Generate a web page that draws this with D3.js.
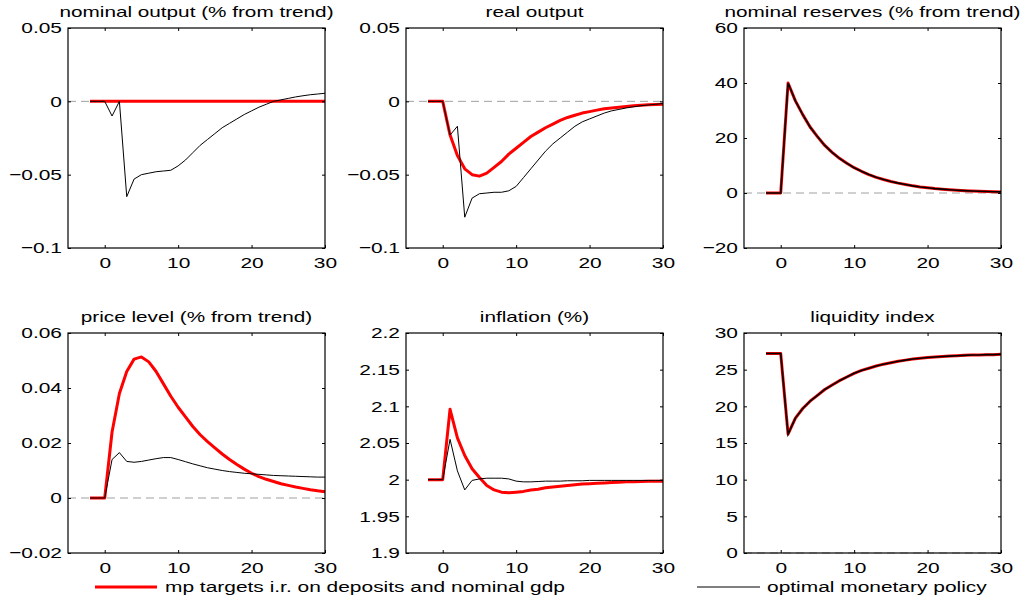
<!DOCTYPE html>
<html lang="en">
<head>
<meta charset="utf-8">
<title>impulse responses</title>
<script src="https://cdn.jsdelivr.net/npm/d3@7"></script>
<style>
  body { margin: 0; background: #fff; }
  svg { display: block; font-family: "Liberation Sans", Arial, sans-serif; }
</style>
</head>
<body>
<div id="chart"></div>
<script>
// periods -2 .. 30
var periods = d3.range(-2, 31);

var titles = ["nominal output (% from trend)", "real output", "nominal reserves (% from trend)",
              "price level (% from trend)", "inflation (%)", "liquidity index"];

var yDomains = [[-0.1, 0.05], [-0.1, 0.05], [-20, 60], [-0.02, 0.06], [1.9, 2.2], [0, 30]];
var yTicks = [[-0.1, -0.05, 0, 0.05], [-0.1, -0.05, 0, 0.05], [-20, 0, 20, 40, 60],
              [-0.02, 0, 0.02, 0.04, 0.06], [1.9, 1.95, 2, 2.05, 2.1, 2.15, 2.2], [0, 5, 10, 15, 20, 25, 30]];
var xTicks = [0, 10, 20, 30];

// mp targets i.r. on deposits and nominal gdp (red)
var nomOutRed = [0,0,0, 0,0,0,0,0,0,0,0,0,0, 0,0,0,0,0,0,0,0,0,0, 0,0,0,0,0,0,0,0,0,0];
var realOutRed = [0,0,0, -0.023,-0.037,-0.046,-0.050,-0.051,-0.049,-0.045,-0.041,-0.036,-0.032,
  -0.028,-0.024,-0.021,-0.018,-0.0155,-0.013,-0.011,-0.0095,-0.008,-0.007,
  -0.006,-0.005,-0.0045,-0.004,-0.0035,-0.003,-0.0027,-0.0024,-0.0021,-0.002];
var reservesRed = [0,0,0, 40,33.5,28.5,24,20.5,17.3,14.8,12.6,10.8,9.2,
  7.9,6.7,5.7,4.9,4.2,3.6,3.1,2.6,2.2,1.9,
  1.6,1.4,1.2,1.0,0.85,0.75,0.65,0.55,0.45,0.4];
var priceRed = [0,0,0, 0.024,0.038,0.046,0.0505,0.0513,0.0495,0.046,0.0415,0.037,0.033,
  0.0295,0.026,0.023,0.0205,0.0182,0.016,0.014,0.0122,0.0105,0.009,
  0.0078,0.0068,0.006,0.0052,0.0046,0.004,0.0035,0.003,0.0026,0.0023];
var inflRed = [2,2,2, 2.096,2.057,2.033,2.015,2.003,1.992,1.986,1.983,1.982,1.983,
  1.984,1.986,1.987,1.989,1.990,1.991,1.992,1.993,1.994,1.9945,
  1.995,1.9955,1.996,1.9965,1.997,1.9972,1.9975,1.998,1.998,1.998];
var liqRed = [27.2,27.2,27.2, 16.2,18.4,19.7,20.7,21.5,22.3,22.9,23.5,24.0,24.5,
  24.9,25.2,25.5,25.75,25.95,26.15,26.3,26.45,26.55,26.65,
  26.72,26.8,26.85,26.9,26.95,27.0,27.0,27.05,27.05,27.1];

// optimal monetary policy (black)
var nomOutBlack = [0,0,0, -0.01,0,-0.065,-0.053,-0.050,-0.049,-0.048,-0.0475,-0.047,-0.044,
  -0.040,-0.035,-0.030,-0.026,-0.022,-0.018,-0.015,-0.012,-0.009,-0.0065,
  -0.004,-0.002,0,0.001,0.002,0.003,0.0038,0.0045,0.005,0.0055];
var realOutBlack = [0,0,0, -0.023,-0.017,-0.079,-0.066,-0.063,-0.0625,-0.062,-0.062,-0.061,-0.058,
  -0.052,-0.046,-0.040,-0.034,-0.029,-0.025,-0.021,-0.017,-0.014,-0.012,
  -0.010,-0.008,-0.0065,-0.0055,-0.0045,-0.0037,-0.003,-0.0025,-0.002,-0.0015];
var reservesBlack = [0,0,0, 40,33.5,28.5,24,20.5,17.3,14.8,12.6,10.8,9.2,
  7.9,6.7,5.7,4.9,4.2,3.6,3.1,2.6,2.2,1.9,
  1.6,1.4,1.2,1.0,0.85,0.75,0.65,0.55,0.45,0.4];
var priceBlack = [0,0,0, 0.014,0.0165,0.0133,0.013,0.0133,0.0138,0.0143,0.0147,0.0147,0.014,
  0.0132,0.0124,0.0117,0.011,0.0105,0.01,0.0096,0.0093,0.009,0.0088,
  0.0086,0.0084,0.0082,0.0081,0.008,0.0079,0.0078,0.0077,0.0076,0.0076];
var inflBlack = [2,2,2, 2.055,2.012,1.986,1.999,2.001,2.002,2.002,2.002,2.001,1.998,
  1.997,1.997,1.9975,1.998,1.998,1.998,1.9985,1.9985,1.9985,1.999,
  1.999,1.999,1.999,1.999,1.999,1.999,1.999,1.999,1.999,1.999];
var liqBlack = [27.2,27.2,27.2, 16.2,18.4,19.7,20.7,21.5,22.3,22.9,23.5,24.0,24.5,
  24.9,25.2,25.5,25.75,25.95,26.15,26.3,26.45,26.55,26.65,
  26.72,26.8,26.85,26.9,26.95,27.0,27.0,27.05,27.05,27.1];

var redSeries = [nomOutRed, realOutRed, reservesRed, priceRed, inflRed, liqRed];
var blackSeries = [nomOutBlack, realOutBlack, reservesBlack, priceBlack, inflBlack, liqBlack];

var legendLabels = ["mp targets i.r. on deposits and nominal gdp", "optimal monetary policy"];

var width = 1022, height = 598;
var svg = d3.select("#chart").append("svg").attr("width", width).attr("height", height);

var colLeft = [68, 406, 744], panelW = 257;
var rowTop = [28, 333], panelH = 220;
var stretch = 1.35;   // the original font is set wide

function fmt(v) {
  var s = String(+v.toFixed(4));
  return v < 0 ? "\u2212" + s.slice(1) : s;
}

// draw text widened horizontally around its anchor point
function wideText(sel, x, y, sx) {
  return sel.attr("x", 0).attr("y", 0)
    .attr("transform", "translate(" + x + "," + y + ") scale(" + sx + ",1)");
}

function drawPanel(k) {
  var x0 = colLeft[k % 3], y0 = rowTop[Math.floor(k / 3)];
  var g = svg.append("g").attr("transform", "translate(" + x0 + "," + y0 + ")");

  var x = d3.scaleLinear().domain([-5, 30]).range([0, panelW]);
  var y = d3.scaleLinear().domain(yDomains[k]).range([panelH, 0]);

  // dashed zero line
  if (yDomains[k][0] <= 0 && yDomains[k][1] >= 0) {
    g.append("line").attr("x1", 0).attr("x2", panelW).attr("y1", y(0)).attr("y2", y(0))
      .attr("stroke", "#a0a0a0").attr("stroke-width", 1).attr("stroke-dasharray", "8,5");
  }

  var line = d3.line().x(function(d, i) { return x(periods[i]); }).y(function(d) { return y(d); });

  g.append("path").datum(redSeries[k]).attr("d", line)
    .attr("fill", "none").attr("stroke", "#ff0000").attr("stroke-width", 3).attr("stroke-linejoin", "round");
  g.append("path").datum(blackSeries[k]).attr("d", line)
    .attr("fill", "none").attr("stroke", "#000").attr("stroke-width", (k == 2 || k == 5) ? 1.6 : 1);

  // box
  g.append("rect").attr("width", panelW).attr("height", panelH)
    .attr("fill", "none").attr("stroke", "#000").attr("stroke-width", 1.2);

  // axes, inward ticks on all four sides
  var axB = g.append("g").attr("transform", "translate(0," + panelH + ")")
    .call(d3.axisBottom(x).tickValues(xTicks).tickSize(-3).tickFormat(d3.format("d")));
  var axT = g.append("g").call(d3.axisTop(x).tickValues(xTicks).tickSize(-3).tickFormat(""));
  var axL = g.append("g")
    .call(d3.axisLeft(y).tickValues(yTicks[k]).tickSize(-3).tickFormat(fmt));
  var axR = g.append("g").attr("transform", "translate(" + panelW + ",0)")
    .call(d3.axisRight(y).tickValues(yTicks[k]).tickSize(-3).tickFormat(""));

  [axB, axT, axL, axR].forEach(function(a) {
    a.select(".domain").remove();
    a.selectAll("line").attr("stroke", "#000");
    a.selectAll("text").attr("font-size", "15.5px").attr("fill", "#000")
      .attr("font-family", "Liberation Sans, Arial, sans-serif");
  });
  axB.selectAll("text").each(function() { wideText(d3.select(this), 0, 9, stretch); });
  axL.selectAll("text").each(function() { wideText(d3.select(this), -6, 0, stretch); });

  wideText(g.append("text").text(titles[k]), panelW / 2, -11, 1.43)
    .attr("text-anchor", "middle").attr("font-size", "14.5px").attr("fill", "#000");
}

for (var k = 0; k < 6; k++) drawPanel(k);

// legend
var leg = [[95, 157, 165, "#ff0000", 3], [697, 760, 767, "#000", 1]];
leg.forEach(function(l, i) {
  svg.append("line").attr("x1", l[0]).attr("x2", l[1]).attr("y1", 587).attr("y2", 587)
    .attr("stroke", l[3]).attr("stroke-width", l[4]);
  wideText(svg.append("text").text(legendLabels[i]), l[2], 592, stretch)
    .attr("font-size", "15.5px").attr("fill", "#000");
});
</script>
</body>
</html>
